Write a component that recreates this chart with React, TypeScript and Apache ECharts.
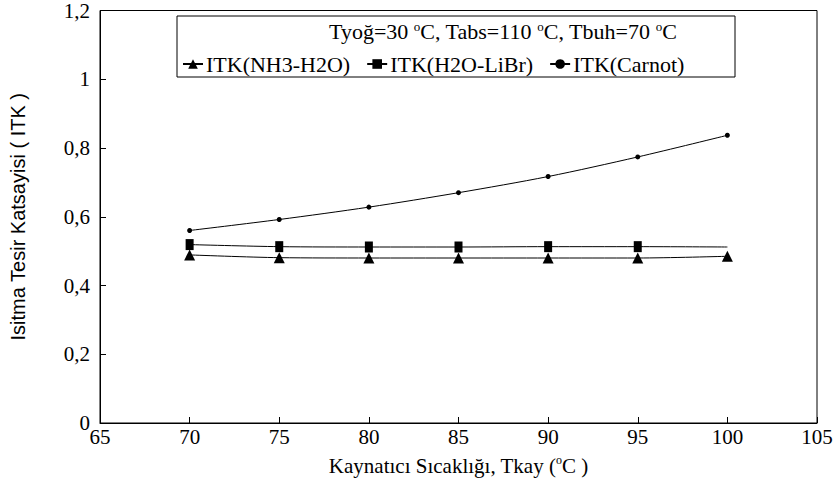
import React, { useEffect, useRef } from "react";
import * as echarts from "echarts";

const temps = [70, 75, 80, 85, 90, 95, 100];
const itkNH3 = [0.489, 0.481, 0.480, 0.480, 0.480, 0.480, 0.485];
const itkLiBr = [0.519, 0.513, 0.512, 0.512, 0.513, 0.513, 0.512];
const itkCarnot = [0.560, 0.592, 0.628, 0.670, 0.717, 0.774, 0.837];
const seriesNames = ["ITK(NH3-H2O)", "ITK(H2O-LiBr)", "ITK(Carnot)"];
const yTicks = ["0", "0,2", "0,4", "0,6", "0,8", "1", "1,2"];

const SERIF = "Liberation Serif";
const SANS = "Liberation Sans";

export default function App() {
  const ref = useRef<HTMLDivElement>(null);
  useEffect(() => {
    if (!ref.current) return;
    const chart = echarts.init(ref.current, undefined, { renderer: "svg" });
    const toPairs = (arr: number[]) => temps.map((t, i) => [t, arr[i]]);
    const liBrData = temps.map((t, i) =>
      i === temps.length - 1 ? { value: [t, itkLiBr[i]], symbol: "none" } : [t, itkLiBr[i]]
    );
    const sup = { fontFamily: SERIF, fontSize: 13, lineHeight: 13, verticalAlign: "top", color: "#000" };
    chart.setOption({
      animation: false,
      backgroundColor: "#fff",
      textStyle: { fontFamily: SERIF, color: "#000" },
      grid: {
        left: 95,
        right: 22,
        top: 10,
        bottom: 72,
        show: true,
        borderColor: "#000",
        borderWidth: 1,
      },
      title: {
        text: "{n|Tyoğ=30 }{s|o}{n|C, Tabs=110 }{s|o}{n|C, Tbuh=70 }{s|o}{n|C}",
        right: 162,
        top: 20,
        padding: 0,
        textStyle: {
          fontFamily: SERIF,
          fontSize: 22,
          fontWeight: "normal",
          color: "#000",
          rich: {
            n: { fontFamily: SERIF, fontSize: 22, lineHeight: 22, verticalAlign: "bottom", color: "#000" },
            s: sup,
          },
        },
      },
      legend: {
        data: seriesNames,
        left: 182,
        top: 53,
        padding: 0,
        itemWidth: 20,
        itemHeight: 12,
        itemGap: 16,
        textStyle: { fontFamily: SERIF, fontSize: 22, color: "#000", padding: [0, 0, 0, -2] },
      },
      graphic: [
        {
          type: "rect",
          shape: { x: 177, y: 16, width: 558, height: 61 },
          style: { fill: "none", stroke: "#000", lineWidth: 1 },
          z: 10,
        },
      ],
      xAxis: {
        type: "value",
        min: 65,
        max: 105,
        interval: 5,
        name: "{n|Kaynatıcı Sıcaklığı, Tkay (}{s|o}{n|C )}",
        nameLocation: "middle",
        nameGap: 31,
        nameTextStyle: {
          fontFamily: SERIF,
          fontSize: 21,
          color: "#000",
          rich: {
            n: { fontFamily: SERIF, fontSize: 21, lineHeight: 22, verticalAlign: "bottom", color: "#000" },
            s: { ...sup, fontSize: 12, lineHeight: 12 },
          },
        },
        axisLine: { onZero: false, lineStyle: { color: "#000", width: 1 } },
        axisTick: { inside: true, length: 6, lineStyle: { color: "#000" } },
        axisLabel: { fontFamily: SERIF, fontSize: 21, color: "#000", margin: 3 },
        splitLine: { show: false },
      },
      yAxis: {
        type: "value",
        min: 0,
        max: 1.2,
        interval: 0.2,
        name: "Isitma Tesir Katsayisi ( ITK )",
        nameLocation: "middle",
        nameGap: 72,
        nameTextStyle: {
          fontFamily: SANS,
          fontSize: 20,
          color: "#000",
        },
        axisLine: { show: true, lineStyle: { color: "#000", width: 1 } },
        axisTick: { inside: true, length: 6, lineStyle: { color: "#000" } },
        axisLabel: {
          fontFamily: SERIF,
          fontSize: 21,
          color: "#000",
          margin: 10,
          formatter: (v: number) => yTicks[Math.round(v / 0.2)] ?? String(v),
        },
        splitLine: { show: false },
      },
      series: [
        {
          name: seriesNames[0],
          type: "line",
          data: toPairs(itkNH3),
          smooth: 0.3,
          symbol: "triangle",
          symbolSize: 11,
          itemStyle: { color: "#000" },
          lineStyle: { color: "#000", width: 1 },
        },
        {
          name: seriesNames[1],
          type: "line",
          data: liBrData,
          smooth: 0.3,
          symbol: "rect",
          symbolSize: [8, 11],
          itemStyle: { color: "#000" },
          lineStyle: { color: "#000", width: 1 },
        },
        {
          name: seriesNames[2],
          type: "line",
          data: toPairs(itkCarnot),
          smooth: 0.3,
          symbol: "circle",
          symbolSize: 5,
          itemStyle: { color: "#000" },
          lineStyle: { color: "#000", width: 1 },
        },
      ],
    });
    return () => chart.dispose();
  }, []);
  return <div ref={ref} style={{ width: 839, height: 495, position: "absolute", left: 0, top: 0 }} />;
}
